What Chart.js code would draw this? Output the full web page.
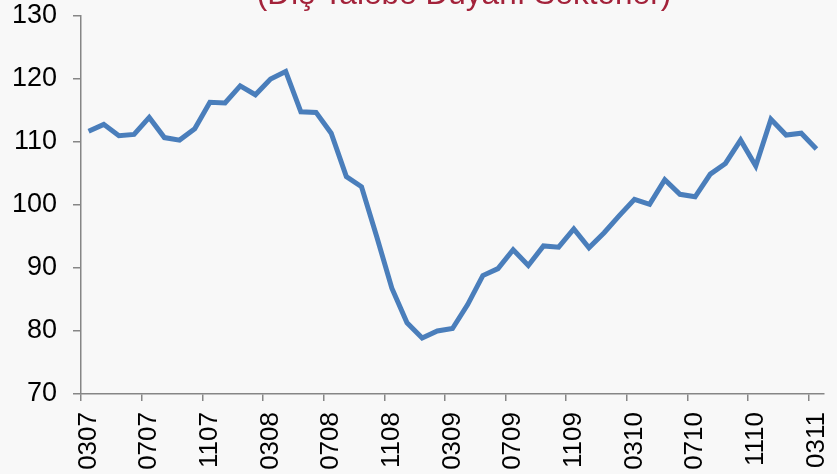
<!DOCTYPE html>
<html>
<head>
<meta charset="utf-8">
<script src="https://cdn.jsdelivr.net/npm/chart.js@4/dist/chart.umd.min.js"></script>
<style>
  html, body { margin: 0; padding: 0; background: #f8f8f8; }
  #wrap { width: 837px; height: 474px; position: relative; }
</style>
</head>
<body>
<div id="wrap"><canvas id="lineChart"></canvas></div>
<script>
// months as MMYY, 03/2007 - 03/2011
const months = [
    '0307', '0407', '0507', '0607', '0707', '0807', '0907', '1007', '1107', '1207',
    '0108', '0208', '0308', '0408', '0508', '0608', '0708', '0808', '0908', '1008', '1108', '1208',
    '0109', '0209', '0309', '0409', '0509', '0609', '0709', '0809', '0909', '1009', '1109', '1209',
    '0110', '0210', '0310', '0410', '0510', '0610', '0710', '0810', '0910', '1010', '1110', '1210',
    '0111', '0211', '0311'
];
const index = [
    111.7, 112.8, 111.0, 111.2, 113.9, 110.7, 110.3, 112.1, 116.3, 116.2,
    118.9, 117.5, 120.0, 121.2, 114.8, 114.7, 111.4, 104.5, 102.9, 95.0, 86.8, 81.3,
    78.9, 80.0, 80.4, 84.2, 88.8, 89.9, 92.9, 90.4, 93.5, 93.3, 96.2, 93.2,
    95.6, 98.3, 100.9, 100.1, 104.0, 101.7, 101.3, 104.9, 106.6, 110.3, 106.2, 113.6,
    111.1, 111.4, 108.9
];
const yTicks = [70, 80, 90, 100, 110, 120, 130];
const titleText = '(Dış Talebe Duyarlı Sektörler)';

const axisGray = '#868686';
const fontFamily = '"Liberation Sans", Arial, sans-serif';

// title sits mostly cut off above the plot
const titlePlugin = {
    id: 'cutTitle',
    afterDraw(chart) {
        const ctx = chart.ctx;
        ctx.save();
        ctx.font = '31.6px ' + fontFamily;
        ctx.fillStyle = '#A3223A';
        ctx.textAlign = 'center';
        ctx.textBaseline = 'alphabetic';
        ctx.fillText(titleText, 464, 3.5);
        ctx.restore();
    }
};

window.onload = function() {
    const ctx = document.getElementById('lineChart').getContext('2d');
    new Chart(ctx, {
        type: 'line',
        data: {
            labels: months,
            datasets: [{
                data: index,
                borderColor: '#4A7EBB',
                borderWidth: 5,
                pointRadius: 0,
                tension: 0,
                fill: false
            }]
        },
        options: {
            responsive: true,
            maintainAspectRatio: false,
            animation: false,
            layout: { padding: { top: 16, right: 13, left: 0, bottom: 0 } },
            plugins: {
                legend: { display: false },
                tooltip: { enabled: false },
                title: { display: false }
            },
            scales: {
                x: {
                    offset: true,
                    grid: {
                        offset: true,
                        drawOnChartArea: false,
                        tickLength: 7,
                        lineWidth: 1.5,
                        tickColor: (c) => (c.index % 4 === 0 ? axisGray : 'rgba(0,0,0,0)')
                    },
                    border: { display: true, color: axisGray, width: 1.5 },
                    ticks: {
                        autoSkip: false,
                        minRotation: 90,
                        maxRotation: 90,
                        padding: 11,
                        color: '#000',
                        font: { family: fontFamily, size: 26 },
                        callback: (v, i) => (i % 4 === 0 ? months[i] : '')
                    },
                    afterFit: (s) => {
                        s.height = 80;
                        s.paddingLeft = 0;
                        s.paddingRight = 0;
                    }
                },
                y: {
                    min: yTicks[0],
                    max: yTicks[yTicks.length - 1],
                    grid: {
                        drawOnChartArea: false,
                        tickLength: 8,
                        lineWidth: 1.5,
                        color: axisGray
                    },
                    border: { display: true, color: axisGray, width: 1.5 },
                    afterBuildTicks: (s) => { s.ticks = yTicks.map(v => ({ value: v })); },
                    ticks: {
                        padding: 16,
                        color: '#000',
                        font: { family: fontFamily, size: 27 }
                    },
                    afterFit: (s) => {
                        s.width = 81;
                        s.paddingTop = 0;
                        s.paddingBottom = 0;
                    }
                }
            }
        },
        plugins: [titlePlugin]
    });
};
</script>
</body>
</html>
